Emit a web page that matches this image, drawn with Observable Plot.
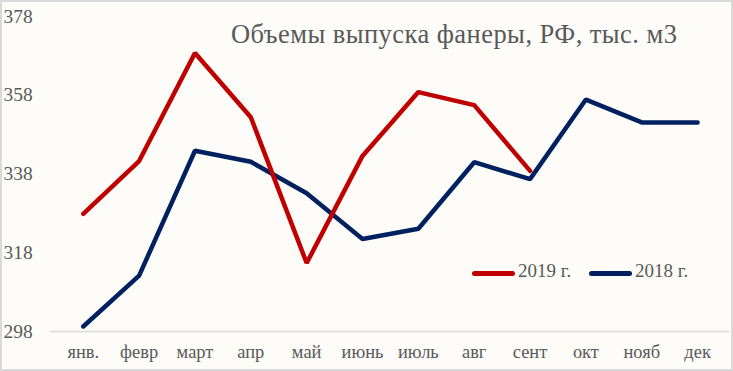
<!DOCTYPE html>
<html>
<head>
<meta charset="utf-8">
<script src="https://cdn.jsdelivr.net/npm/d3@7"></script>
<script src="https://cdn.jsdelivr.net/npm/@observablehq/plot@0.6"></script>
<style>
  html, body { margin: 0; padding: 0; background: #fff; }
  #wrap { position: relative; width: 733px; height: 371px; box-sizing: border-box;
          border: 2px solid #d9d9d9; background: #fdfcf8; overflow: hidden;
          font-family: "Liberation Serif", "DejaVu Serif", serif; color: #595959; }
  #chart { position: absolute; left: -2px; top: -2px; }
  #title { position: absolute; left: 229px; top: 17px; font-size: 26.5px; letter-spacing: 0.45px; white-space: nowrap; }
  .leg { position: absolute; top: 258px; font-size: 19px; white-space: nowrap; }
  .sw { position: absolute; top: 11px; width: 43px; height: 4.5px; border-radius: 3px; }
</style>
</head>
<body>
<div id="wrap">
  <div id="chart"></div>
  <div id="title">Объемы выпуска фанеры, РФ, тыс. м3</div>
  <div class="leg" style="left:470px"><span class="sw" style="left:0;background:#c00000"></span><span style="position:absolute;left:46px">2019 г.</span></div>
  <div class="leg" style="left:587px"><span class="sw" style="left:0;background:#002060"></span><span style="position:absolute;left:46px">2018 г.</span></div>
</div>
<script>
const months = ["янв.", "февр", "март", "апр", "май", "июнь", "июль", "авг", "сент", "окт", "нояб", "дек"];
const values2019 = [327.9, 341.3, 368.7, 352.4, 315.4, 342.6, 358.8, 355.5, 338.8];
const values2018 = [299.3, 312.2, 343.9, 341.1, 333.1, 321.5, 324.1, 341.0, 336.7, 356.9, 351.1, 351.1];
const yTicks = [298, 318, 338, 358, 378];

const d2019 = values2019.map((v, i) => ({month: months[i], value: v}));
const d2018 = values2018.map((v, i) => ({month: months[i], value: v}));

const chart = Plot.plot({
  width: 733,
  height: 371,
  marginLeft: 50,
  marginRight: 2,
  marginTop: 16,
  marginBottom: 39,
  style: {background: "transparent", fontFamily: "'Liberation Serif', 'DejaVu Serif', serif", color: "#595959"},
  x: {type: "point", domain: months, range: [79, 703], padding: 0, axis: null},
  y: {domain: [298, 378], axis: null},
  marks: [
    Plot.ruleY([298], {stroke: "#d9d9d9", strokeWidth: 1.5}),
    Plot.text(yTicks, {y: d => d, text: d => String(d), frameAnchor: "left", textAnchor: "start", dx: -47, fontSize: 19.5, fill: "#595959"}),
    Plot.text(months, {x: d => d, text: d => d, frameAnchor: "bottom", dy: 26, fontSize: 18.5, fill: "#595959"}),
    Plot.line(d2018, {x: "month", y: "value", stroke: "#002060", strokeWidth: 4.5, strokeLinecap: "round", strokeLinejoin: "miter"}),
    Plot.line(d2019, {x: "month", y: "value", stroke: "#c00000", strokeWidth: 4.5, strokeLinecap: "round", strokeLinejoin: "miter"})
  ]
});
document.getElementById("chart").appendChild(chart);
</script>
</body>
</html>
